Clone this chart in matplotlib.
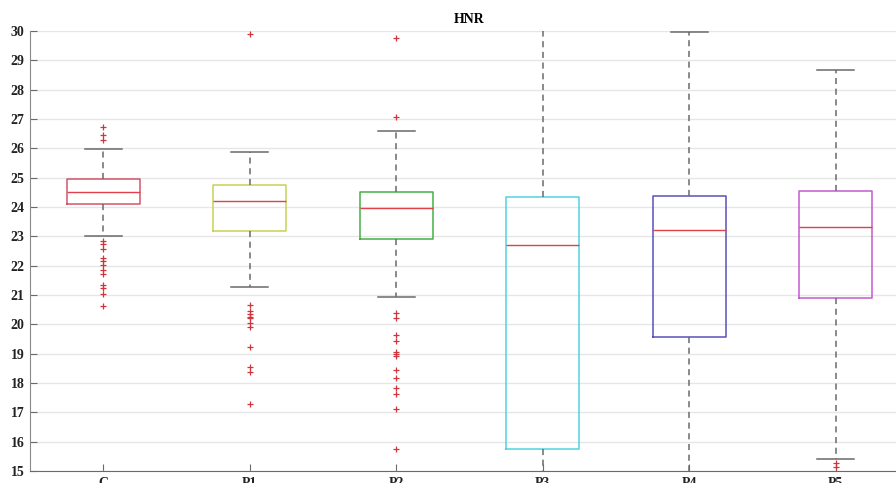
import matplotlib
matplotlib.use("Agg")
import matplotlib.pyplot as plt

plt.rcParams['font.family'] = ['Liberation Serif', 'DejaVu Serif']
plt.rcParams['font.weight'] = 'bold'

# ---- box statistics per group ----
groups = ['C', 'P1', 'P2', 'P3', 'P4', 'P5']
q1 = [24.09, 23.18, 22.90, 15.76, 19.56, 20.90]
med = [24.52, 24.21, 23.95, 22.69, 23.22, 23.33]
q3 = [24.95, 24.75, 24.50, 24.35, 24.38, 24.55]
whislo = [23.01, 21.28, 20.94, 14.0, 14.0, 15.40]
whishi = [25.98, 25.89, 26.58, 31.0, 29.98, 28.66]
fliers = [
    [26.73, 26.46, 26.28, 22.84, 22.73, 22.58, 22.26, 22.16, 22.01,
     21.86, 21.73, 21.33, 21.23, 21.02, 20.62],
    [29.89, 20.65, 20.47, 20.35, 20.26, 20.20, 20.03, 19.92, 19.23,
     18.56, 18.38, 17.27],
    [29.75, 27.06, 20.40, 20.20, 19.64, 19.44, 19.07, 18.99, 18.92,
     18.44, 18.18, 17.84, 17.61, 17.12, 15.74],
    [],
    [],
    [15.28, 15.12],
]
box_colors = ['#d4546a', '#c9d257', '#45b045', '#4fd3dc', '#5a4fb8', '#c35ad2']

stats = []
for i, g in enumerate(groups):
    stats.append(dict(label=g, q1=q1[i], med=med[i], q3=q3[i],
                      whislo=whislo[i], whishi=whishi[i], fliers=fliers[i]))

W, H = 896, 483
fig = plt.figure(figsize=(W / 100, H / 100), dpi=100)
ax = fig.add_axes([30 / W, 12 / H, 879 / W, 440 / H])

bp = ax.bxp(stats, positions=range(1, 7), widths=0.5, showfliers=True,
            boxprops=dict(linewidth=1.1),
            medianprops=dict(color='#e0414a', linewidth=1.0),
            whiskerprops=dict(color='#6a6a6a', linewidth=1.1, linestyle=(0, (4, 3))),
            capprops=dict(color='#6a6a6a', linewidth=1.1),
            capwidths=0.25,
            flierprops=dict(marker='+', markeredgecolor='#d0343c',
                            markersize=5, markeredgewidth=0.9, linestyle='none'))
for box, c in zip(bp['boxes'], box_colors):
    box.set_color(c)

ax.set_xlim(0.5, 6.5)
ax.set_ylim(15, 30)
ax.set_yticks(range(15, 31))
ax.set_xticks(range(1, 7))
ax.set_xticklabels(groups)
ax.set_title('HNR', fontsize=10, fontweight='bold', pad=6)

ax.yaxis.grid(True, color='#e6e6e6', linewidth=1.0)
ax.set_axisbelow(True)
for side in ['top', 'right']:
    ax.spines[side].set_visible(False)
ax.spines['left'].set_color('#8a8a8a')
ax.spines['bottom'].set_color('#6a6a6a')
ax.tick_params(axis='both', direction='in', colors='#6a6a6a', labelcolor='#222222',
               labelsize=10, length=5, pad=4)

fig.savefig('out.png', dpi=100)
